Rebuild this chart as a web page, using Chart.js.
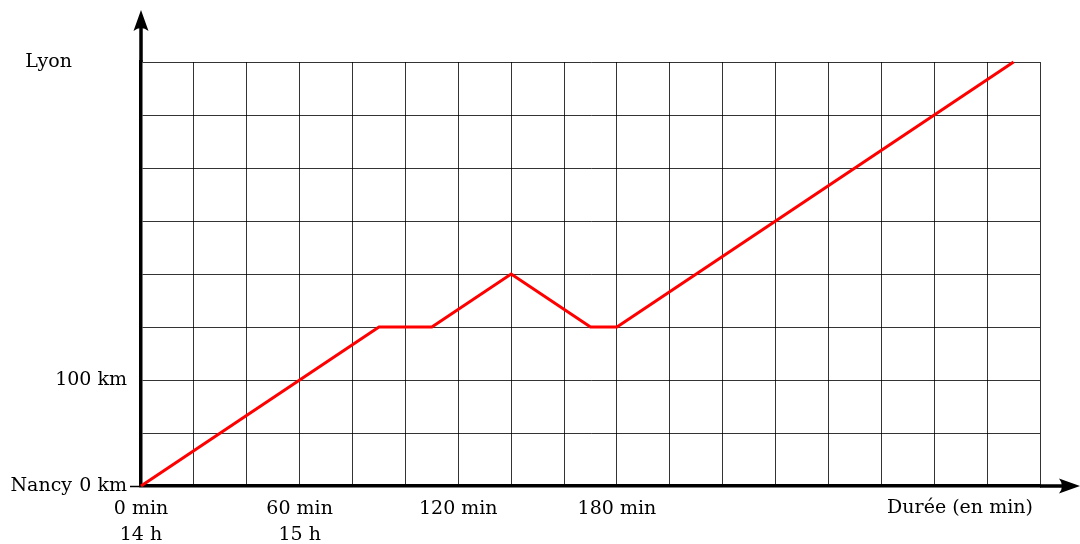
<!DOCTYPE html>
<html>
<head>
<meta charset="utf-8">
<script src="https://cdn.jsdelivr.net/npm/chart.js@4.4.1/dist/chart.umd.min.js"></script>
<style>
  body { margin: 0; background: #fff; }
  #wrap { width: 1080px; height: 544px; }
</style>
</head>
<body>
<div id="wrap"><canvas id="chart1" width="1080" height="544"></canvas></div>
<script>
    // trajet Nancy -> Lyon : temps (min) et distance (km)
    let timeMins = [0, 90, 110, 140, 170, 180, 330];
    let distKm = [0, 150, 150, 200, 150, 150, 400];

    let xTickLabels = {0: ['0 min', '14 h'], 60: ['60 min', '15 h'], 120: '120 min', 180: '180 min'};
    let yTickLabels = {0: '0 km', 100: '100 km'};
    let cityLabels = {0: 'Nancy', 400: 'Lyon'};
    let xTitle = 'Durée (en min)';

    let fontFamily = 'DejaVu Serif';
    Chart.defaults.font.family = fontFamily;
    Chart.defaults.font.size = 19;
    Chart.defaults.color = '#000';

    // axes fléchés + textes hors axes
    let extrasPlugin = {
        id: 'extras',
        afterDraw(chart) {
            let c = chart.ctx;
            let area = chart.chartArea;
            let ys = chart.scales.y;
            c.save();
            c.strokeStyle = '#000';
            c.fillStyle = '#000';
            c.lineWidth = 3.5;
            c.beginPath();
            c.moveTo(area.left, area.top);
            c.lineTo(area.left, 22);
            c.moveTo(area.right, area.bottom);
            c.lineTo(1068, area.bottom);
            c.stroke();
            // pointes
            c.beginPath();
            c.moveTo(area.left, 10);
            c.lineTo(area.left + 7.5, 31);
            c.quadraticCurveTo(area.left, 25, area.left - 7.5, 31);
            c.closePath();
            c.fill();
            c.beginPath();
            c.moveTo(1080, area.bottom);
            c.lineTo(1059, area.bottom + 7.5);
            c.quadraticCurveTo(1065, area.bottom, 1059, area.bottom - 7.5);
            c.closePath();
            c.fill();

            c.font = '19px "' + fontFamily + '"';
            c.textAlign = 'right';
            c.textBaseline = 'middle';
            Object.keys(cityLabels).forEach(function(v) {
                c.fillText(cityLabels[v], 72, ys.getPixelForValue(Number(v)));
            });
            c.textAlign = 'center';
            c.fillText(xTitle, 960, area.bottom + 22);
            c.restore();
        }
    };

    let chart1 = document.getElementById('chart1').getContext('2d');

    let travelChart = new Chart(chart1, {
    type:'line',
    data:{
    datasets:[{
    label:'Trajet',
    data:timeMins.map(function(t, i) { return {x: t, y: distKm[i]}; }),
    borderColor:'rgb(255, 0, 0)',
    borderWidth:3,
    pointRadius:0,
    tension:0,
    clip:false
}]
},
    options:{
    responsive:false,
    animation:false,
    layout:{
    padding:{left:0, right:40, top:62, bottom:0}
},
    plugins:{
    legend:{display:false},
    tooltip:{enabled:false}
},
    scales:{
    x:{
    type:'linear',
    min:0,
    max:340,
    afterFit:function(s) { s.height = 58; },
    border:{color:'#000', width:3.5},
    grid:{color:'#000', lineWidth:0.8, drawTicks:false},
    ticks:{
    stepSize:20,
    autoSkip:false,
    maxRotation:0,
    padding:10,
    font:{size:19, lineHeight:1.37},
    callback:function(v) { return xTickLabels[v] || ''; }
}
},
    y:{
    min:0,
    max:400,
    afterFit:function(s) { s.width = 141; },
    border:{color:'#000', width:3.5},
    grid:{
    color:'#000',
    lineWidth:0.8,
    tickLength:11,
    tickWidth:1.5,
    tickColor:function(ctx) { return ctx.tick && ctx.tick.value === 0 ? '#000' : 'rgba(0,0,0,0)'; }
},
    ticks:{
    stepSize:50,
    autoSkip:false,
    padding:3,
    callback:function(v) { return yTickLabels[v] || ''; }
}
}
}
},
    plugins:[extrasPlugin]
});
</script>
</body>
</html>
